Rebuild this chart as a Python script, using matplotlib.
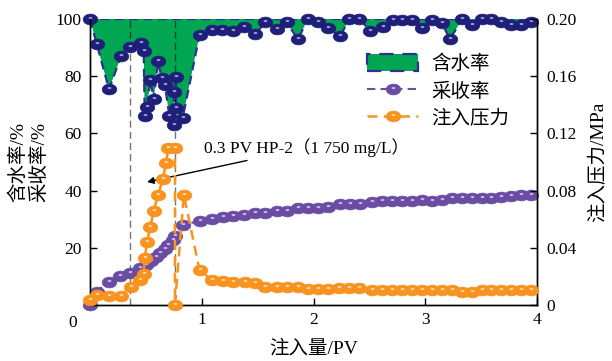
import numpy as np
import matplotlib
matplotlib.use('Agg')
import matplotlib.pyplot as plt
from matplotlib.markers import MarkerStyle
from matplotlib.transforms import Affine2D
from matplotlib.lines import Line2D

plt.rcParams['font.family'] = ['Liberation Serif', 'Noto Sans CJK SC']
plt.rcParams['font.size'] = 12
plt.rcParams['axes.unicode_minus'] = False

# ---- data ----
wc_x = [0, 0.06, 0.17, 0.28, 0.36, 0.46, 0.48, 0.49, 0.51, 0.54, 0.57, 0.61, 0.64, 0.67, 0.71,
        0.75, 0.75, 0.77, 0.77, 0.83, 0.98, 1.09, 1.18, 1.28, 1.38, 1.48, 1.57, 1.67, 1.76, 1.86,
        1.95, 2.04, 2.13, 2.24, 2.32, 2.41, 2.51, 2.62, 2.71, 2.79, 2.88, 2.97, 3.06, 3.15, 3.22,
        3.33, 3.42, 3.51, 3.59, 3.68, 3.77, 3.86, 3.95]
wc_y = [100, 91.3, 75.4, 87.2, 90.3, 91.5, 88.7, 66.1, 69.1, 78.7, 71.9, 85.2, 79.3, 76.9, 66.1,
        62.9, 74.6, 79.6, 68.8, 65.5, 94.4, 96.2, 96.2, 95.9, 97.3, 94.8, 98.8, 96.4, 98.8, 92.9,
        99.9, 98.8, 96.7, 94.1, 99.9, 99.9, 95.9, 97.1, 99.7, 99.7, 99.7, 97.0, 99.7, 98.5, 92.9,
        99.9, 97.9, 99.9, 99.9, 98.8, 97.9, 97.9, 98.8]

rc_x = [0, 0.06, 0.17, 0.27, 0.36, 0.45, 0.50, 0.55, 0.59, 0.63, 0.67, 0.70, 0.74, 0.76, 0.83,
        0.98, 1.09, 1.19, 1.28, 1.38, 1.48, 1.57, 1.67, 1.76, 1.86, 1.95, 2.04, 2.13, 2.24, 2.33,
        2.42, 2.52, 2.61, 2.70, 2.79, 2.88, 2.97, 3.06, 3.15, 3.24, 3.33, 3.42, 3.51, 3.59, 3.68,
        3.77, 3.86, 3.95]
rc_y = [0, 4.7, 8.2, 10.3, 11.3, 12.8, 14.0, 15.5, 16.7, 18.1, 19.5, 21.0, 22.7, 24.1, 28.0,
        29.4, 30.1, 30.7, 31.1, 31.5, 32.1, 32.3, 32.7, 32.9, 33.8, 33.8, 33.8, 34.4, 35.2, 35.2,
        35.2, 35.9, 36.4, 36.4, 36.2, 36.2, 36.7, 36.5, 36.7, 37.5, 37.5, 37.5, 37.5, 37.5, 37.9,
        38.1, 38.5, 38.5]

pr_x = [0, 0.06, 0.17, 0.28, 0.37, 0.45, 0.48, 0.49, 0.51, 0.54, 0.57, 0.61, 0.65, 0.68, 0.70,
        0.76, 0.76, 0.84, 0.98, 1.09, 1.19, 1.28, 1.39, 1.48, 1.57, 1.67, 1.76, 1.86, 1.95, 2.04,
        2.13, 2.23, 2.32, 2.41, 2.52, 2.61, 2.70, 2.79, 2.88, 2.97, 3.06, 3.15, 3.24, 3.33, 3.42,
        3.51, 3.59, 3.68, 3.77, 3.86, 3.95]
pr_y = [0.0034, 0.0070, 0.0064, 0.0066, 0.0128, 0.0174, 0.0216, 0.0326, 0.0440, 0.0546,
        0.0660, 0.0770, 0.0878, 0.0990, 0.1100, 0.1100, 0.0, 0.0770, 0.0244, 0.0174,
        0.0170, 0.0158, 0.0158, 0.0154, 0.0126, 0.0126, 0.0126, 0.0126, 0.0114, 0.0114,
        0.0114, 0.0116, 0.0116, 0.0116, 0.0104, 0.0104, 0.0104, 0.0104, 0.0104, 0.0108,
        0.0108, 0.0104, 0.0104, 0.0094, 0.0094, 0.0104, 0.0104, 0.0104, 0.0104, 0.0104, 0.0104]

vlines_x = [0.36, 0.76]
x_ticks = [0, 1, 2, 3, 4]
x_ticklabels = ['', '1', '2', '3', '4']
y_ticks = [0, 20, 40, 60, 80, 100]
y_ticklabels = ['', '20', '40', '60', '80', '100']
r_ticks = [0, 0.04, 0.08, 0.12, 0.16, 0.20]
r_ticklabels = ['0', '0.04', '0.08', '0.12', '0.16', '0.20']

# ---- styles ----
C_NAVY = '#1f1f7a'
C_EDGE = '#2e3192'
C_GREEN = '#00a651'
C_PURPLE = '#6a4ca3'
C_ORANGE = '#f7931e'

ball = MarkerStyle('o', transform=Affine2D().scale(1.0, 0.74))
hl = MarkerStyle('o', transform=Affine2D().scale(0.26, 0.15).translate(0, 0.1))
MS = 10.5
FS_TICK = 12.5
FS_CJK = 14

fig = plt.figure(figsize=(6.12, 3.61), dpi=100)
ax = fig.add_axes([90/612, 1-305/361, 447/612, 286/361])
ax2 = ax.twinx()

# water cut fill
fill = ax.fill_between(wc_x, wc_y, 100, facecolor=C_GREEN, edgecolor=C_EDGE,
                       linestyle=(0, (4, 2.5)), linewidth=1.6, zorder=2)

for vx in vlines_x:
    ax.axvline(vx, color='black', alpha=0.55, linestyle=(0, (5, 3)), linewidth=1.0, zorder=3)

# recovery
l_rc, = ax.plot(rc_x, rc_y, linestyle=(0, (4, 2.5)), color=C_PURPLE, linewidth=1.5,
                marker=ball, markersize=MS, markerfacecolor=C_PURPLE, markeredgecolor=C_PURPLE,
                markeredgewidth=0.5, zorder=4, clip_on=False)
h_rc, = ax.plot(rc_x, rc_y, linestyle='none', marker=hl, markersize=MS,
                markerfacecolor='#c9b9ea', markeredgecolor='none', zorder=4.1, clip_on=False)

# water cut markers
l_wc, = ax.plot(wc_x, wc_y, linestyle='none', marker=ball, markersize=MS,
                markerfacecolor=C_NAVY, markeredgecolor=C_NAVY, markeredgewidth=0.5,
                zorder=5, clip_on=False)
ax.plot(wc_x, wc_y, linestyle='none', marker=hl, markersize=MS,
        markerfacecolor='#9a9ad8', markeredgecolor='none', zorder=5.1, clip_on=False)

# pressure
l_pr, = ax2.plot(pr_x, pr_y, linestyle=(0, (4, 2.5)), color=C_ORANGE, linewidth=1.8,
                 marker=ball, markersize=MS, markerfacecolor=C_ORANGE, markeredgecolor=C_ORANGE,
                 markeredgewidth=0.5, zorder=4, clip_on=False)
h_pr, = ax2.plot(pr_x, pr_y, linestyle='none', marker=hl, markersize=MS,
                 markerfacecolor='#ffd7a8', markeredgecolor='none', zorder=4.1, clip_on=False)

# axes
ax.set_xlim(0, 4)
ax.set_ylim(0, 100)
ax2.set_ylim(0, 0.20)
ax.set_xticks(x_ticks)
ax.set_xticklabels(x_ticklabels)
ax.set_yticks(y_ticks)
ax.set_yticklabels(y_ticklabels)
ax2.set_yticks(r_ticks)
ax2.set_yticklabels(r_ticklabels)
for a in (ax, ax2):
    a.spines['top'].set_visible(False)
    for s in a.spines.values():
        s.set_linewidth(1.0)
ax.tick_params(axis='both', direction='in', length=5, width=1, labelsize=FS_TICK, pad=6)
ax.tick_params(axis='x', pad=5)
ax2.tick_params(axis='y', direction='in', length=5, width=1, labelsize=FS_TICK, pad=7)
ax.text(-0.038, -0.035, '0', transform=ax.transAxes, ha='center', va='top', fontsize=FS_TICK)

ax.set_xlabel('注入量/PV', fontsize=FS_CJK, labelpad=9)
ax.set_ylabel('含水率/%\n采收率/%', fontsize=FS_CJK, labelpad=5, linespacing=1.25)
ax2.set_ylabel('注入压力/MPa', fontsize=FS_CJK, labelpad=9)

# annotation
ax2.annotate('0.3 PV HP-2（1 750 mg/L）', xy=(0.51, 0.086), xytext=(1.02, 0.110),
             fontsize=FS_TICK, ha='left', va='center',
             arrowprops=dict(arrowstyle='-|>', color='black', lw=1.0,
                             shrinkA=2, shrinkB=0, mutation_scale=10))

# legend
leg = ax2.legend([fill, (l_rc, h_rc), (l_pr, h_pr)], ['含水率', '采收率', '注入压力'],
                 loc='upper left', bbox_to_anchor=(0.59, 0.925), frameon=False,
                 fontsize=FS_CJK, handlelength=2.6, handleheight=1.0, numpoints=1,
                 labelspacing=0.4, handletextpad=0.7, borderpad=0.2)

fig.savefig('out.png', dpi=100)
